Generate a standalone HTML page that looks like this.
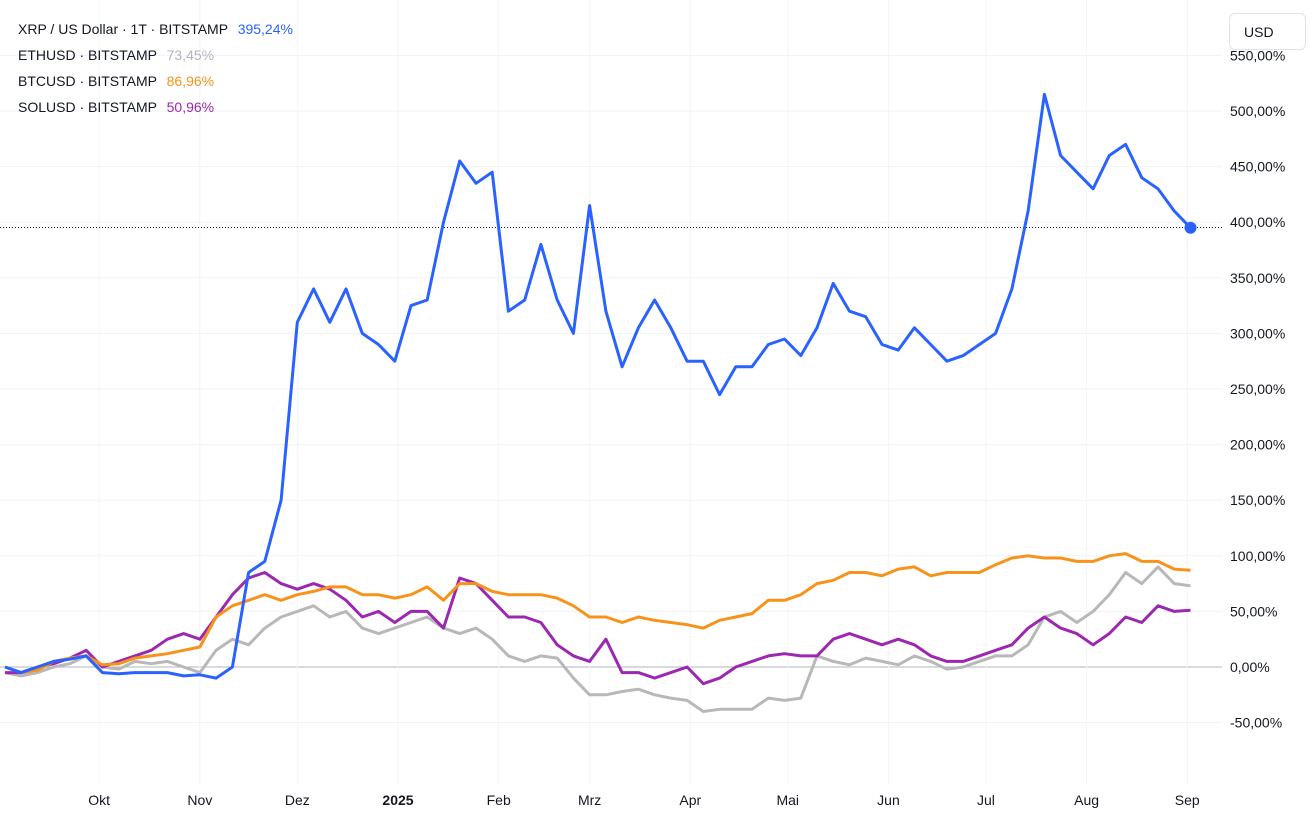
<!DOCTYPE html>
<html><head><meta charset="utf-8">
<style>
body{margin:0;background:#fff;font-family:"Liberation Sans",sans-serif;}
#wrap{position:relative;width:1313px;height:818px;overflow:hidden;}
.leg{position:absolute;left:18px;font-size:14px;color:#131722;white-space:nowrap;}
.leg span{margin-left:6px;}
#usd{position:absolute;left:1229px;top:13px;width:77px;height:37px;border:1px solid #e0e3eb;border-radius:6px;background:#fff;font-size:14px;color:#131722;box-sizing:border-box;padding:10px 0 0 14px;}
</style></head><body>
<div id="wrap">
<svg id="svg" width="1313" height="818"></svg>
<div class="leg" style="top:21px">XRP / US Dollar · 1T · BITSTAMP <span style="color:#2962ff">395,24%</span></div>
<div class="leg" style="top:47px">ETHUSD · BITSTAMP <span style="color:#b2b5be">73,45%</span></div>
<div class="leg" style="top:73px">BTCUSD · BITSTAMP <span style="color:#f7931a">86,96%</span></div>
<div class="leg" style="top:99px">SOLUSD · BITSTAMP <span style="color:#9c27b0">50,96%</span></div>
<div id="usd">USD</div>
</div>
<script>
const monthLabels=["Okt","Nov","Dez","2025","Feb","Mrz","Apr","Mai","Jun","Jul","Aug","Sep"];
const monthDays=[29,60,90,121,152,180,211,241,272,302,333,364];
const yTicks=[-50,0,50,100,150,200,250,300,350,400,450,500,550];
const stepDays=5;
const xrp=[0,-5,0,5,7,10,-5,-6,-5,-5,-5,-8,-7,-10,0,85,95,150,310,340,310,340,300,290,275,325,330,400,455,435,445,320,330,380,330,300,415,320,270,305,330,305,275,275,245,270,270,290,295,280,305,345,320,315,290,285,305,290,275,280,290,300,340,410,515,460,445,430,460,470,440,430,410,395];
const btc=[0,-5,-3,5,8,10,2,3,8,10,12,15,18,45,55,60,65,60,65,68,72,72,65,65,62,65,72,60,75,75,68,65,65,65,62,55,45,45,40,45,42,40,38,35,42,45,48,60,60,65,75,78,85,85,82,88,90,82,85,85,85,92,98,100,98,98,95,95,100,102,95,95,88,87];
const eth=[-5,-8,-5,0,3,10,0,-2,5,3,5,0,-5,15,25,20,35,45,50,55,45,50,35,30,35,40,45,35,30,35,25,10,5,10,8,-10,-25,-25,-22,-20,-25,-28,-30,-40,-38,-38,-38,-28,-30,-28,10,5,2,8,5,2,10,5,-2,0,5,10,10,20,45,50,40,50,65,85,75,90,75,73];
const sol=[-5,-5,0,3,8,15,0,5,10,15,25,30,25,45,65,80,85,75,70,75,70,60,45,50,40,50,50,35,80,75,60,45,45,40,20,10,5,25,-5,-5,-10,-5,0,-15,-10,0,5,10,12,10,10,25,30,25,20,25,20,10,5,5,10,15,20,35,45,35,30,20,30,45,40,55,50,51];
const lastXrp=395.24;

const NS="http://www.w3.org/2000/svg";
const svg=document.getElementById('svg');
const X=d=>5+3.248*d;
const Y=v=>667-1.112*v;
function mk(t,a){const e=document.createElementNS(NS,t);for(const k in a)e.setAttribute(k,a[k]);svg.appendChild(e);return e;}
yTicks.forEach(v=>{
 const l=mk('line',{x1:0,x2:1222,y1:Y(v),y2:Y(v),stroke:v===0?'#b2b5be':'#f0f3fa','stroke-width':1});
 
 
 const t=mk('text',{x:1230,y:Y(v)+5,'font-size':14,fill:'#131722','font-family':'Liberation Sans, sans-serif'});
 t.textContent=(v<0?'-':'')+Math.abs(v)+',00%';
 
 
});
monthDays.forEach((d,i)=>{
 const l=mk('line',{x1:X(d),x2:X(d),y1:0,y2:785,stroke:'#f3f4f7','stroke-width':1});
 
 
 const t=mk('text',{x:X(d),y:805,'font-size':14,fill:'#131722','text-anchor':'middle','font-weight':monthLabels[i]==='2025'?'bold':'normal','font-family':'Liberation Sans, sans-serif'});
 t.textContent=monthLabels[i];
 
 
});
const hl=mk('line',{x1:0,x2:1222,y1:Y(lastXrp),y2:Y(lastXrp),stroke:'#131722','stroke-width':1,'stroke-dasharray':'1 2'});


function series(arr,color,name){
 const pts=arr.map((v,i)=>X(i*stepDays).toFixed(1)+','+Y(v).toFixed(1)).join(' ');
 const p=mk('polyline',{points:pts,fill:'none',stroke:color,'stroke-width':3,'stroke-linejoin':'round'});
 
 
}
series(eth,'#b8b8b8','eth-line');
series(sol,'#9c27b0','sol-line');
series(btc,'#f7931a','btc-line');
series(xrp,'#2962ff','xrp-line');
const dot=mk('circle',{cx:X((xrp.length-1)*stepDays),cy:Y(xrp[xrp.length-1]),r:6,fill:'#2962ff'});


</script>
</body></html>
